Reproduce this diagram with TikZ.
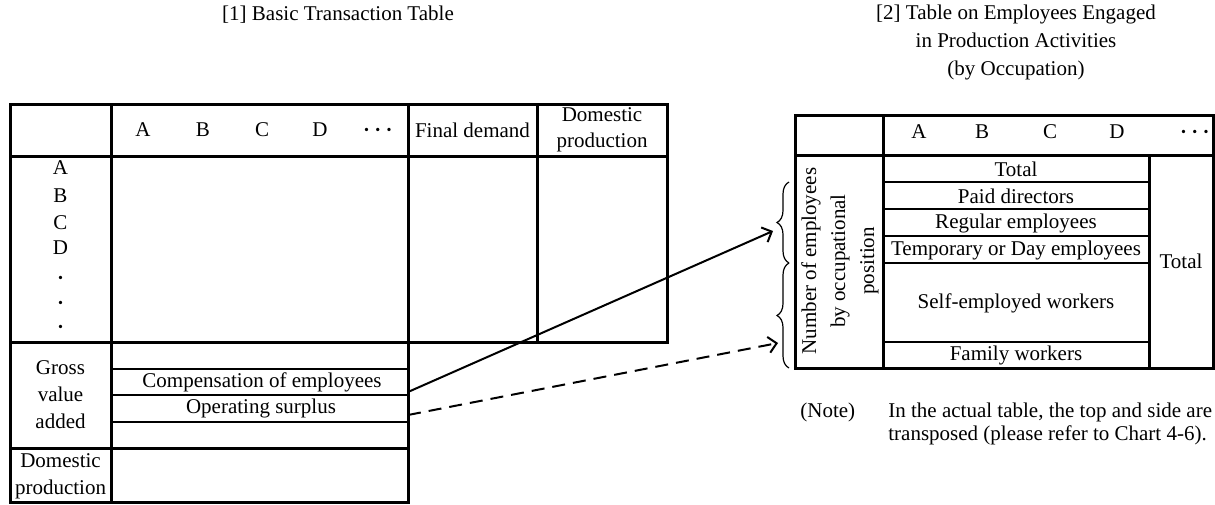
\documentclass[tikz,border=0pt]{standalone}
\usepackage{amsmath}
\usepackage{fontspec}
\setmainfont{Liberation Serif}
\usetikzlibrary{arrows.meta,decorations.pathreplacing}
\newcommand{\tablefont}{\fontsize{10.5}{13}\selectfont}
\tikzset{bold rule/.style={line width=1.5pt},
  fine rule/.style={line width=0.6pt},
  cell text/.style={font=\tablefont, align=center, inner sep=0pt},
  link arrow/.style={line width=1pt, -{Straight Barb[length=4pt,width=8pt]}}}

\begin{document}
\begin{tikzpicture}[x=0.5pt,y=-0.5pt]
\useasboundingbox (0,0) rectangle (1215,504);

% Titles
\node[cell text] (title1) at (338,15) {[1] Basic Transaction Table};
\node[cell text, font=\fontsize{10.5}{14}\selectfont] (title2) at (1016,42) {[2] Table on Employees Engaged\\in Production Activities\\(by Occupation)};

% Basic transaction table, upper part
\draw[bold rule] (10,104) rectangle (667,342);
\draw[bold rule] (10,156) -- (667,156);
\draw[bold rule] (111,104) -- (111,502);
\draw[bold rule] (408,104) -- (408,342);
\draw[bold rule] (537,104) -- (537,342);
\foreach \c/\x in {A/143,B/203,C/262,D/320}
  \node[cell text] (top\c) at (\x,130) {$\mathrm{\c}$};
\node[cell text] (topdots) at (380,130) {$\boldsymbol{\cdots}$};
\node[cell text] (fd) at (472.5,130) {Final demand};
\node[cell text] (dp) at (602,130) {Domestic\\production};
\foreach \c/\y in {A/168,B/196,C/223,D/248}
  \node[cell text] (side\c) at (60.5,\y) {$\mathrm{\c}$};
\foreach \y [count=\i] in {278,303,327}
  \node[cell text] (sidedot\i) at (60.5,\y) {$\boldsymbol{\cdot}$};

% Basic transaction table, lower part
\draw[bold rule] (10,342) rectangle (408,502);
\draw[bold rule] (10,448) -- (408,448);
\foreach \y in {369,395,422}
  \draw[line width=1.3pt] (111,\y) -- (408,\y);
\node[cell text, font=\fontsize{10.5}{13.5}\selectfont] (gva) at (60.5,395) {Gross\\value\\added};
\node[cell text, font=\fontsize{10.5}{13.5}\selectfont] (dp2) at (60.5,476) {Domestic\\production};
\node[cell text] (comp) at (262,382) {Compensation of employees};
\node[cell text] (surplus) at (261,408) {Operating surplus};

% Employees table
\draw[bold rule] (795,115) rectangle (1213,368);
\draw[bold rule] (795,155) -- (1213,155);
\draw[bold rule] (883,115) -- (883,368);
\draw[bold rule] (1149,155) -- (1149,368);
\foreach \y in {182,209,236,263,342}
  \draw[fine rule] (883,\y) -- (1149,\y);
\foreach \c/\x in {A/919,B/982,C/1050,D/1117}
  \node[cell text] (col\c) at (\x,132) {$\mathrm{\c}$};
\node[cell text] (coldots) at (1197,132) {$\boldsymbol{\cdots}$};
\node[cell text] (total) at (1016,169) {Total};
\node[cell text] (paid) at (1016,196) {Paid directors};
\node[cell text] (regular) at (1016,223) {Regular employees};
\node[cell text] (temporary) at (1016,250) {Temporary or Day employees};
\node[cell text] (self) at (1016,303) {Self-employed workers};
\node[cell text] (family) at (1016,355) {Family workers};
\node[cell text] (rtotal) at (1181,261) {Total};
\node[cell text, rotate=90, font=\fontsize{10.5}{14.5}\selectfont] (position) at (840,261) {Number of employees\\by occupational\\position};

% Braces
\coordinate (b1) at (789,182);
\coordinate (b2) at (789,263);
\coordinate (b3) at (789,368);
\draw[fine rule, decorate, decoration={brace, amplitude=6pt}] (b2) -- (b1);
\draw[fine rule, decorate, decoration={brace, amplitude=6pt}] (b3) -- (b2);

% Arrows
\coordinate (compout) at (408,392);
\coordinate (surplusout) at (408,415);
\coordinate (compin) at (773,231);
\coordinate (surplusin) at (778,343);
\draw[link arrow] (compout) -- (compin);
\draw[link arrow, dash pattern=on 6.5pt off 4pt] (surplusout) -- (surplusin);

% Note
\node[cell text, anchor=west] (note) at (800,412) {(Note)};
\node[cell text, anchor=west, align=left, font=\fontsize{10.5}{11.5}\selectfont] (notetext) at (888,423.5) {In the actual table, the top and side are\\transposed (please refer to Chart 4-6).};
\end{tikzpicture}
\end{document}
